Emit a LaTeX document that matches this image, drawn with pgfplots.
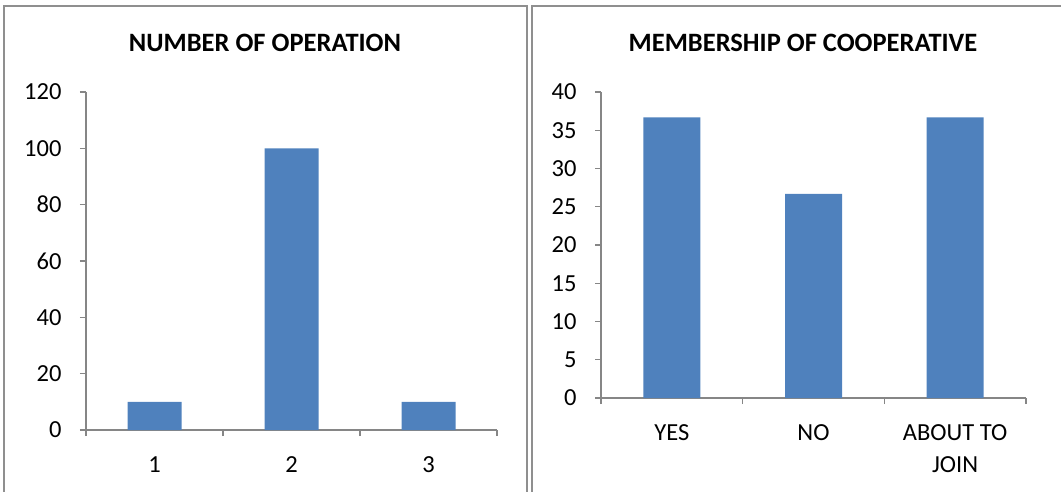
\documentclass[border=0pt]{standalone}
\usepackage{fontspec}
\setmainfont{Carlito}
\usepackage{pgfplots}
\pgfplotsset{compat=1.18}
\definecolor{barblue}{HTML}{4F81BD}
\definecolor{axgray}{HTML}{868686}
\definecolor{framegray}{HTML}{8F8F8F}
\pgfplotsset{
  mystyle/.style={
    scale only axis,
    axis lines*=left,
    axis line style={axgray, line width=1.2pt},
    tick style={axgray, line width=1.2pt},
    tick align=outside,
    major tick length=6pt,
    ymin=0, xmin=0.5, xmax=3.5,
    xtick={0.5,1.5,2.5,3.5}, xticklabels={},
    extra x ticks={1,2,3},
    extra x tick style={major tick length=0pt, tick style={draw=none}},
    ticklabel style={font=\fontsize{24.5}{32}\selectfont, text=black},
    xticklabel style={align=center, anchor=north, yshift=-23pt},
    yticklabel style={xshift=-15pt},
    /pgf/number format/assume math mode=true,
    enlargelimits=false,
    clip=false,
    anchor=south west,
  }
}
\begin{document}
\begin{tikzpicture}
\useasboundingbox (0pt,0pt) rectangle (1061pt,491pt);
\begin{scope}
\clip (0pt,0pt) rectangle (1061pt,491pt);
\draw[framegray, line width=2pt] (4pt,-10pt) rectangle (527pt,485pt);
\draw[framegray, line width=2pt] (532pt,-10pt) rectangle (1075pt,485pt);
\end{scope}
\node[font=\fontsize{26.5}{26.5}\selectfont\bfseries] at (265pt,448.5pt) {NUMBER OF OPERATION};
\node[font=\fontsize{26.5}{26.5}\selectfont\bfseries] at (803pt,448.5pt) {MEMBERSHIP OF COOPERATIVE};
\begin{axis}[mystyle, at={(86pt,61pt)}, width=411pt, height=338pt,
  ymax=120, ytick={0,20,...,120},
  extra x tick labels={1,2,3}]
\addplot[ybar, bar width=54pt, fill=barblue, draw=none] coordinates {(1,10) (2,100) (3,10)};
\end{axis}
\begin{axis}[mystyle, at={(601pt,93pt)}, width=425pt, height=306pt,
  ymax=40, ytick={0,5,...,40},
  extra x tick labels={YES,NO,{ABOUT TO\\JOIN}}]
\addplot[ybar, bar width=57pt, fill=barblue, draw=none] coordinates {(1,36.67) (2,26.67) (3,36.67)};
\end{axis}
\end{tikzpicture}
\end{document}
